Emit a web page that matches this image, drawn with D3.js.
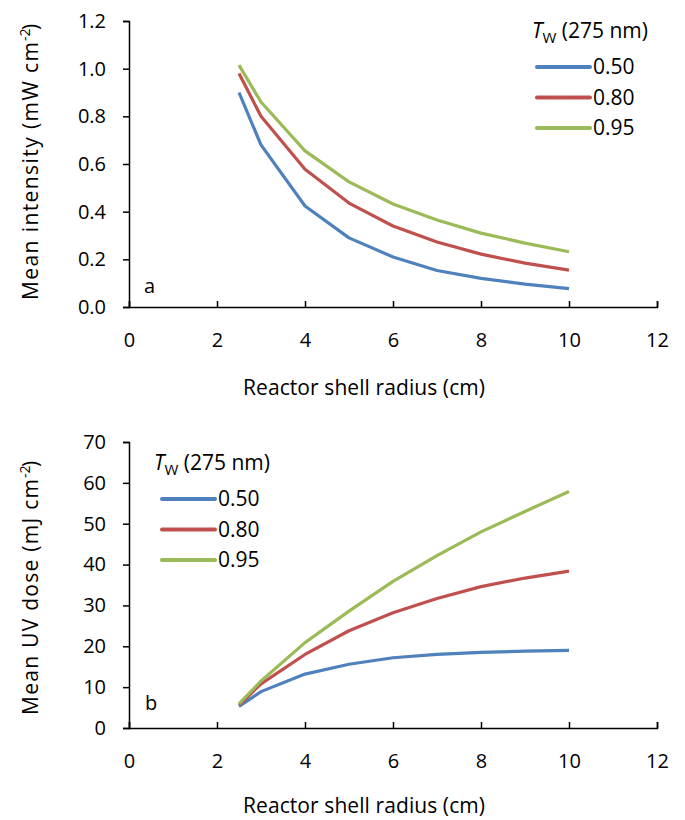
<!DOCTYPE html>
<html>
<head>
<meta charset="utf-8">
<script src="https://cdn.jsdelivr.net/npm/d3@7"></script>
<style>
  body { margin: 0; background: #fff; }
  svg text { font-family: "Open Sans", "Noto Sans", sans-serif; fill: #000; }
</style>
</head>
<body>
<svg id="chart" width="685" height="820"></svg>
<script>
// radius values (cm)
var radius = [2.5, 3, 4, 5, 6, 7, 8, 9, 10];
var seriesNames = ["0.50", "0.80", "0.95"];
var seriesColors = ["#4F81BD", "#C0504D", "#9BBB59"];

// panel a - mean intensity (mW cm-2)
var intensity050 = [0.90, 0.68, 0.424, 0.29, 0.21, 0.153, 0.12, 0.096, 0.077];
var intensity080 = [0.98, 0.80, 0.578, 0.436, 0.34, 0.273, 0.222, 0.184, 0.155];
var intensity095 = [1.015, 0.86, 0.655, 0.525, 0.432, 0.365, 0.31, 0.268, 0.232];

// panel b - mean UV dose (mJ cm-2)
var dose050 = [5.3, 8.9, 13.2, 15.6, 17.2, 18.0, 18.5, 18.8, 19.0];
var dose080 = [5.6, 10.8, 18.0, 23.8, 28.2, 31.7, 34.6, 36.7, 38.4];
var dose095 = [5.9, 11.5, 20.9, 28.6, 35.9, 42.2, 48.0, 53.0, 57.9];

var xTicks = [0, 2, 4, 6, 8, 10, 12];
var yTicksA = [0, 0.2, 0.4, 0.6, 0.8, 1.0, 1.2];
var yTicksB = [0, 10, 20, 30, 40, 50, 60, 70];

var svg = d3.select("#chart");

function drawPanel(opts) {
    var g = svg.append("g");
    var x = d3.scaleLinear().domain([0, 12]).range([129, 657]);
    var y = d3.scaleLinear().domain(opts.yDomain).range([opts.bottom, opts.top]);

    // x axis, ticks point up into the plot
    var xAxis = g.append("g")
        .attr("transform", "translate(0," + opts.bottom + ")")
        .call(d3.axisBottom(x).tickValues(xTicks).tickFormat(d3.format("d"))
            .tickSizeInner(-6).tickSizeOuter(-6).tickPadding(26));
    xAxis.select(".domain").attr("stroke", "#000").attr("stroke-width", 1.5);
    xAxis.selectAll(".tick line").attr("stroke", "#000").attr("stroke-width", 1.5);
    xAxis.selectAll(".tick text").attr("font-size", 20).attr("font-family", "Open Sans");

    var yAxis = g.append("g")
        .attr("transform", "translate(129,0)")
        .call(d3.axisLeft(y).tickValues(opts.yTicks).tickFormat(opts.fmt)
            .tickSizeInner(6).tickSizeOuter(6).tickPadding(17));
    yAxis.select(".domain").attr("stroke", "#000").attr("stroke-width", 1.5);
    yAxis.selectAll(".tick line").attr("stroke", "#000").attr("stroke-width", 1.5);
    yAxis.selectAll(".tick text").attr("font-size", 20).attr("font-family", "Open Sans");

    var line = d3.line()
        .x(function(d, i) { return x(radius[i]); })
        .y(function(d) { return y(d); });

    opts.series.forEach(function(s, i) {
        g.append("path")
            .datum(s)
            .attr("fill", "none")
            .attr("stroke", seriesColors[i])
            .attr("stroke-width", 3.2)
            .attr("stroke-linejoin", "round")
            .attr("d", line);
    });

    // axis titles
    g.append("text")
        .attr("x", 243).attr("y", opts.xTitleY)
        .attr("font-size", 21)
        .attr("textLength", 242)
        .text("Reactor shell radius (cm)");

    var yt = g.append("g")
        .attr("transform", "translate(38," + opts.yTitleStart + ") rotate(-90)");
    yt.append("text")
        .attr("x", 0).attr("y", 0)
        .attr("font-size", 21)
        .attr("textLength", opts.yTitleLen)
        .text(opts.yTitle);
    yt.append("text")
        .attr("x", opts.yTitleLen + 1).attr("y", -8)
        .attr("font-size", 14)
        .text("-2");
    yt.append("text")
        .attr("x", opts.yTitleLen + 12).attr("y", 0)
        .attr("font-size", 21)
        .text(")");

    // panel letter
    g.append("text")
        .attr("x", opts.letterX).attr("y", opts.letterY)
        .attr("font-size", 20)
        .text(opts.letter);

    // legend
    var lt = g.append("text").attr("x", opts.legTitleX).attr("y", opts.legY).attr("font-size", 21);
    lt.append("tspan").attr("font-style", "italic").text("T");
    lt.append("tspan").attr("font-size", 15).attr("dy", 5).text("W");
    lt.append("tspan").attr("dy", -5).text(" (275 nm)");

    seriesNames.forEach(function(name, i) {
        var yy = opts.legY + 29 + i * 30.5;
        g.append("line")
            .attr("x1", opts.legLineX).attr("x2", opts.legLineX + 53)
            .attr("y1", yy).attr("y2", yy)
            .attr("stroke", seriesColors[i])
            .attr("stroke-width", 4)
            .attr("stroke-linecap", "round");
        g.append("text")
            .attr("x", opts.legLineX + 56).attr("y", yy + 7)
            .attr("font-size", 21)
            .text(name);
    });
}

drawPanel({
    top: 21, bottom: 307,
    yDomain: [0, 1.2], yTicks: yTicksA, fmt: d3.format(".1f"),
    series: [intensity050, intensity080, intensity095],
    yTitle: "Mean intensity (mW cm", yTitleStart: 300, yTitleLen: 258,
    xTitleY: 395,
    letter: "a", letterX: 144, letterY: 293,
    legTitleX: 532, legLineX: 537, legY: 38
});

drawPanel({
    top: 442, bottom: 728,
    yDomain: [0, 70], yTicks: yTicksB, fmt: d3.format("d"),
    series: [dose050, dose080, dose095],
    yTitle: "Mean UV dose (mJ cm", yTitleStart: 715, yTitleLen: 236,
    xTitleY: 813,
    letter: "b", letterX: 145, letterY: 710,
    legTitleX: 154, legLineX: 162, legY: 470
});
</script>
</body>
</html>
